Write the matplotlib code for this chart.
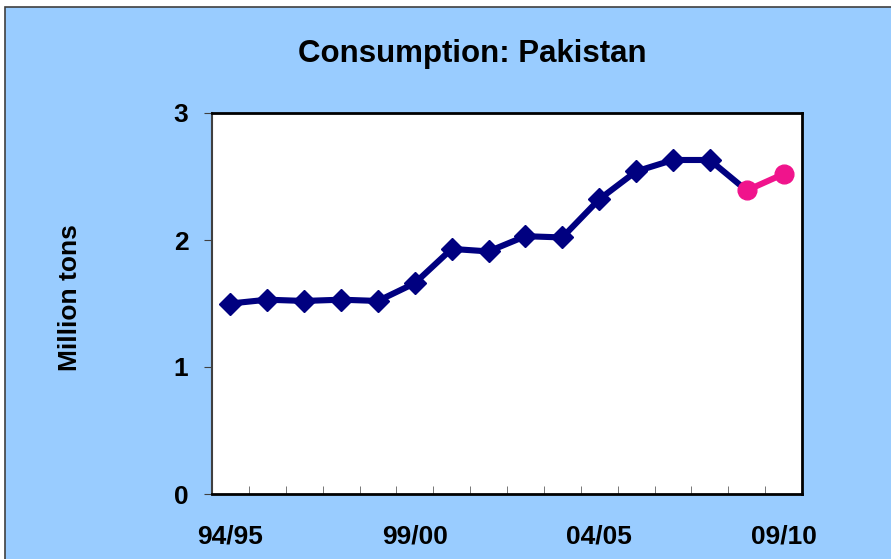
import matplotlib
matplotlib.use("Agg")
import matplotlib.pyplot as plt
from matplotlib.patches import Rectangle

# seasons 94/95 .. 09/10
seasons = ["94/95", "95/96", "96/97", "97/98", "98/99", "99/00", "00/01", "01/02",
           "02/03", "03/04", "04/05", "05/06", "06/07", "07/08", "08/09", "09/10"]
actual = [1.50, 1.53, 1.52, 1.53, 1.52, 1.66, 1.93, 1.91,
          2.03, 2.02, 2.32, 2.54, 2.63, 2.63, 2.39]
forecast = [2.39, 2.52]
labelled = ["94/95", "99/00", "04/05", "09/10"]

plt.rcParams["font.family"] = ["Liberation Sans", "DejaVu Sans"]
plt.rcParams["font.weight"] = "bold"

fig = plt.figure(figsize=(8.91, 5.59), dpi=100, facecolor="white")
# light blue chart area with dark border, behind the axes
bg = Rectangle((5 / 891, -0.01), 1, 1.01 - 7 / 559, transform=fig.transFigure,
               facecolor="#99CCFF", edgecolor="#404040", linewidth=1.2, zorder=0)
fig.patches.append(bg)

ax = fig.add_axes([212 / 891, 1 - 494 / 559, 590 / 891, 381 / 559])
ax.set_zorder(2)
ax.set_facecolor("white")

x = list(range(len(seasons)))
ax.plot(x[:len(actual)], actual, color="#000080", lw=4.4, marker="D", ms=11,
        markevery=list(range(len(actual) - 1)), solid_joinstyle="round", zorder=3)
ax.plot(x[len(actual) - 1:], forecast, color="#F0148C", lw=4.4, marker="o", ms=13.5,
        zorder=4)

ax.set_xlim(-0.5, len(seasons) - 0.5)
ax.set_ylim(0, 3)
ax.set_yticks([0, 1, 2, 3])
ax.set_xticks([seasons.index(s) for s in labelled])
ax.set_xticklabels(labelled)
ax.set_xticks([i + 0.5 for i in range(-1, len(seasons))], minor=True)
ax.tick_params(axis="x", which="major", length=0, pad=22, labelsize=19)
ax.tick_params(axis="x", which="minor", direction="in", length=5.5, color="#606060")
ax.tick_params(axis="y", direction="out", length=6, pad=11, labelsize=19,
               color="#404040")
for lab in ax.get_xticklabels() + ax.get_yticklabels():
    lab.set_fontweight("bold")

for s in ax.spines.values():
    s.set_linewidth(2)
    s.set_color("black")
ax.spines["left"].set_linewidth(1.5)
ax.spines["left"].set_color("#404040")

fig.text(472 / 891, 1 - 54 / 559, "Consumption: Pakistan", ha="center", va="center",
         fontsize=22.5, fontweight="bold")
fig.text(70 / 891, 1 - 298 / 559, "Million tons", ha="center", va="center",
         rotation=90, fontsize=19, fontweight="bold")

fig.savefig("out.png", dpi=100, facecolor=fig.get_facecolor())
